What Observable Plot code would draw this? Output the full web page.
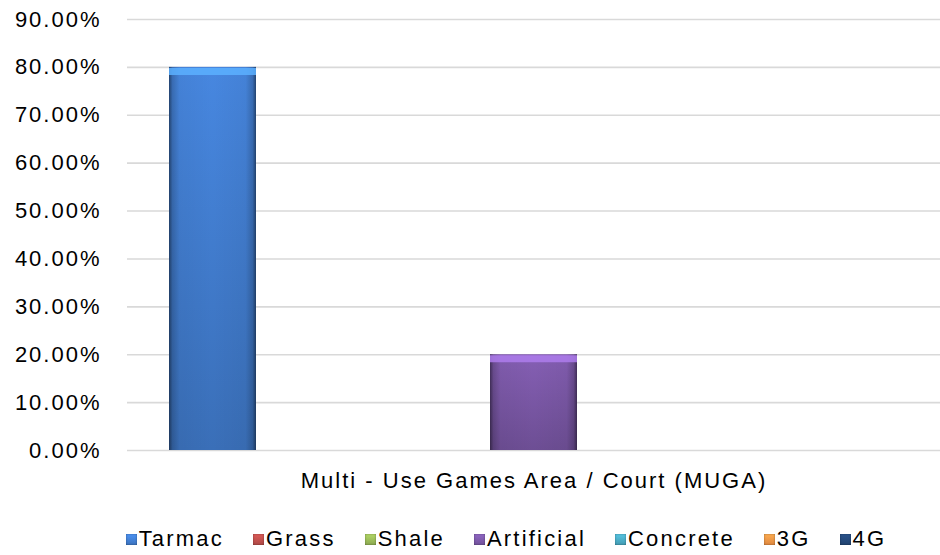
<!DOCTYPE html>
<html>
<head>
<meta charset="utf-8">
<script src="https://cdn.jsdelivr.net/npm/d3@7"></script>
<script src="https://cdn.jsdelivr.net/npm/@observablehq/plot@0.6"></script>
<style>
  html, body { margin: 0; padding: 0; background: #fff; }
  body { width: 940px; height: 555px; overflow: hidden; font-family: "Liberation Sans", Arial, sans-serif; color: #000; }
  #chart svg text { letter-spacing: 2px; }
  #legend { display: flex; justify-content: center; align-items: center; gap: 29px; padding-left: 72px; padding-top: 15px; height: 28px; font-size: 22px; letter-spacing: 2.2px; line-height: 22px; }
  .item { display: flex; align-items: center; }
  .sw { width: 11px; height: 11px; margin-right: 2px; box-shadow: inset 0 0 2px rgba(0,0,0,0.45); }
</style>
</head>
<body>
<div id="chart"></div>
<div id="legend"></div>
<script>
const categories = ["Multi - Use Games Area / Court (MUGA)"];
const series = ["Tarmac", "Grass", "Shale", "Artificial", "Concrete", "3G", "4G"];
const values = [0.80, 0, 0, 0.20, 0, 0, 0];
const colors = ["#4380d4", "#c0504d", "#9bbb59", "#7e5aab", "#4bacc6", "#f79646", "#24497a"];
const yTicks = [0, 0.1, 0.2, 0.3, 0.4, 0.5, 0.6, 0.7, 0.8, 0.9];

const data = series.map((s, i) => ({category: categories[0], series: s, value: values[i], idx: i}));
const shown = data.filter(d => d.value > 0);

const plot = Plot.plot({
  width: 940,
  height: 510,
  marginLeft: 127,
  marginRight: 0,
  marginTop: 19,
  marginBottom: 60,
  style: {fontFamily: "'Liberation Sans', Arial, sans-serif", color: "#000", background: "#fff"},
  y: {domain: [0, 0.9], label: null},
  x: {domain: series, axis: null, paddingInner: 0.19, paddingOuter: 0.39},
  fx: {domain: categories, padding: 0, label: null},
  color: {type: "identity"},
  marks: [
    Plot.ruleY(yTicks, {stroke: "#d9d9d9", strokeWidth: 1.6}),
    Plot.barY(data, {fx: "category", x: "series", y: "value", fill: d => `url(#grad${d.idx})`}),
    Plot.barY(shown, {fx: "category", x: "series", y: "value", fill: d => "url(#edge)"}),
    Plot.tickY(shown, {fx: "category", x: "series", y: "value", stroke: d => d3.color(colors[d.idx]).brighter(0.9).formatHex(), strokeWidth: 7, dy: 4, strokeOpacity: 0.85}),
    Plot.axisY(yTicks, {tickFormat: d3.format(".2%"), tickSize: 0, tickPadding: 26, fontSize: 22, label: null}),
    Plot.axisFx({anchor: "bottom", tickSize: 0, tickPadding: 22, fontSize: 22, label: null})
  ]
});

const defs = d3.select(plot).insert("defs", ":first-child");
colors.forEach((c, i) => {
  const g = defs.append("linearGradient").attr("id", `grad${i}`).attr("x1", 0).attr("y1", 0).attr("x2", 0).attr("y2", 1);
  g.append("stop").attr("offset", 0).attr("stop-color", d3.color(c).brighter(0.15).formatHex());
  g.append("stop").attr("offset", 1).attr("stop-color", d3.color(c).darker(0.4).formatHex());
});
const e = defs.append("linearGradient").attr("id", "edge").attr("x1", 0).attr("y1", 0).attr("x2", 1).attr("y2", 0);
[[0, 0.5], [0.04, 0.2], [0.12, 0.04], [0.5, 0], [0.88, 0.04], [0.96, 0.2], [1, 0.5]].forEach(([o, a]) => {
  e.append("stop").attr("offset", o).attr("stop-color", "#000").attr("stop-opacity", a);
});

document.getElementById("chart").appendChild(plot);

const legend = d3.select("#legend");
series.forEach((s, i) => {
  const it = legend.append("div").attr("class", "item");
  it.append("span").attr("class", "sw")
    .style("background", `linear-gradient(${d3.color(colors[i]).brighter(0.4).formatHex()}, ${d3.color(colors[i]).darker(0.3).formatHex()})`);
  it.append("span").text(s);
});
</script>
</body>
</html>
